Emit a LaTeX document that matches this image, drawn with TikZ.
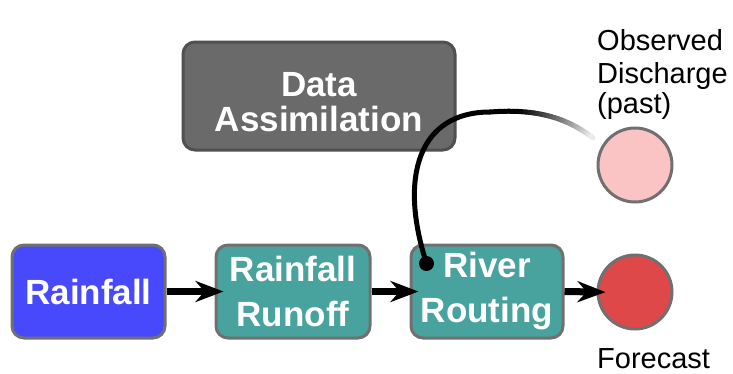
\documentclass[tikz,border=0pt]{standalone}
\usepackage{fontspec}
\setmainfont{Liberation Sans}
\usetikzlibrary{arrows.meta,calc}
\definecolor{rainblue}{HTML}{4848FC}
\definecolor{tealbox}{HTML}{48A29E}
\definecolor{dagray}{HTML}{6A6A6A}
\definecolor{edgegray}{HTML}{707070}
\definecolor{pinkc}{HTML}{FAC4C4}
\definecolor{redc}{HTML}{DF4848}
\begin{document}
\begin{tikzpicture}[x=1pt,y=-1pt,
  box/.style={draw=edgegray,line width=3pt,rounded corners=12pt,text=white,
    font=\bfseries\fontsize{35}{45}\selectfont,align=center,inner sep=0pt},
  circ/.style={circle,draw=edgegray,line width=3pt,minimum size=74pt,inner sep=0pt},
  lbl/.style={font=\fontsize{29}{33}\selectfont,align=left,inner sep=0pt,anchor=base west},
  arr/.style={line width=7pt,shorten >=-9pt,-{Stealth[length=28pt,width=21pt,inset=9pt]}},
  link/.style={line width=5pt,line cap=round}]
\useasboundingbox (0,0) rectangle (733,373);
\node[box,fill=rainblue,minimum width=153pt,minimum height=93pt] (rain) at (88.5,291.5) {Rainfall};
\node[box,fill=tealbox,minimum width=154pt,minimum height=93pt] (runoff) at (293,291.5) {Rainfall\\Runoff};
\node[box,fill=tealbox,minimum width=152pt,minimum height=93pt] (rout) at (487,291.5) {River\\Routing};
\node[box,fill=dagray,draw=dagray!75!black,minimum width=272pt,minimum height=108pt] (da) at (319,96) {};
\node[text=white,font=\bfseries\fontsize{35}{35}\selectfont,align=center,inner sep=0pt] (datext)
  at ([yshift=-6.5pt]da.center) {Data\\Assimilation};
\node[circ,fill=pinkc] (obs) at (635,165) {};
\node[circ,fill=redc] (fc) at (635,292) {};
\node[lbl] (obslbl) at (597,50) {Observed};
\node[lbl] (obslbl2) at (597,83) {Discharge};
\node[lbl] (obslbl3) at (597,113) {(past)};
\node[lbl] (fclbl) at (597,368) {Forecast};
\draw[arr] (rain.east) -- (runoff.west);
\draw[arr] (runoff.east) -- (rout.west);
\draw[arr] (rout.east) -- (fc.west);
% curve from River Routing to observed discharge
\coordinate (ds) at ([shift={(17,20)}]rout.north west);
\coordinate (top) at (490,112);
\coordinate (fe) at ($(obs.center)+(-42,-27)$);
\draw[link] (ds) .. controls (398,175) and (420,112) .. (top);
\foreach \i in {0,...,29}{
  \path (top) .. controls (540,108) and (570,120) .. (fe) coordinate[pos=\i/30] (f\i);
}
\path (top) .. controls (540,108) and (570,120) .. (fe) coordinate[pos=1] (f30);
\foreach \i [evaluate=\i as \j using int(\i+1), evaluate=\i as \p using {min(100,100*(30-\i)/24)}] in {0,...,29}{
  \draw[link,draw=black!\p!white!96!black] (f\i) -- (f\j);
}
\fill (ds) circle (7.5pt);
\end{tikzpicture}
\end{document}
